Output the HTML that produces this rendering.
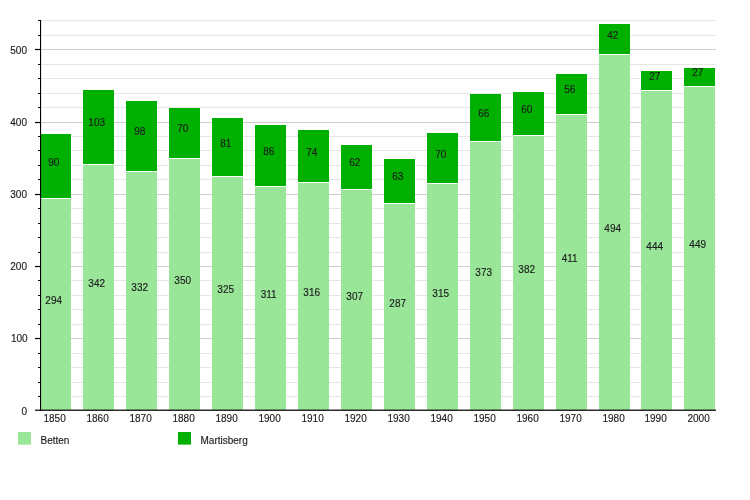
<!DOCTYPE html><html><head><meta charset="utf-8"><title>Chart</title><style>html,body{margin:0;padding:0;background:#fff}svg{display:block}text{font-family:"Liberation Sans",sans-serif;font-size:10px;fill:#1c1c1c;stroke:#1c1c1c;stroke-width:0.15px}</style></head><body>
<svg width="750" height="500" viewBox="0 0 750 500">
<rect width="750" height="500" fill="#fff"/>
<rect x="40" y="410" width="676" height="1" fill="#cecece"/>
<rect x="40" y="396" width="676" height="1" fill="#e6e6e6"/>
<rect x="40" y="382" width="676" height="1" fill="#e6e6e6"/>
<rect x="40" y="367" width="676" height="1" fill="#e6e6e6"/>
<rect x="40" y="353" width="676" height="1" fill="#e6e6e6"/>
<rect x="40" y="338" width="676" height="1" fill="#cecece"/>
<rect x="40" y="324" width="676" height="1" fill="#e6e6e6"/>
<rect x="40" y="309" width="676" height="1" fill="#e6e6e6"/>
<rect x="40" y="295" width="676" height="1" fill="#e6e6e6"/>
<rect x="40" y="280" width="676" height="1" fill="#e6e6e6"/>
<rect x="40" y="266" width="676" height="1" fill="#cecece"/>
<rect x="40" y="252" width="676" height="1" fill="#e6e6e6"/>
<rect x="40" y="237" width="676" height="1" fill="#e6e6e6"/>
<rect x="40" y="223" width="676" height="1" fill="#e6e6e6"/>
<rect x="40" y="208" width="676" height="1" fill="#e6e6e6"/>
<rect x="40" y="194" width="676" height="1" fill="#cecece"/>
<rect x="40" y="179" width="676" height="1" fill="#e6e6e6"/>
<rect x="40" y="165" width="676" height="1" fill="#e6e6e6"/>
<rect x="40" y="150" width="676" height="1" fill="#e6e6e6"/>
<rect x="40" y="136" width="676" height="1" fill="#e6e6e6"/>
<rect x="40" y="122" width="676" height="1" fill="#cecece"/>
<rect x="40" y="107" width="676" height="1" fill="#e6e6e6"/>
<rect x="40" y="93" width="676" height="1" fill="#e6e6e6"/>
<rect x="40" y="78" width="676" height="1" fill="#e6e6e6"/>
<rect x="40" y="64" width="676" height="1" fill="#e6e6e6"/>
<rect x="40" y="49" width="676" height="1" fill="#cecece"/>
<rect x="40" y="35" width="676" height="1" fill="#e6e6e6"/>
<rect x="40" y="20" width="676" height="1" fill="#e6e6e6"/>
<rect x="40" y="199" width="31" height="211" fill="#99e699"/>
<rect x="40" y="134" width="31" height="64" fill="#00b000"/>
<text x="53.70" y="303.80" text-anchor="middle">294</text>
<text x="53.70" y="165.80" text-anchor="middle">90</text>
<text x="54.60" y="421.8" text-anchor="middle">1850</text>
<rect x="83" y="165" width="31" height="245" fill="#99e699"/>
<rect x="83" y="90" width="31" height="74" fill="#00b000"/>
<text x="96.70" y="286.80" text-anchor="middle">342</text>
<text x="96.70" y="125.80" text-anchor="middle">103</text>
<text x="97.60" y="421.8" text-anchor="middle">1860</text>
<rect x="126" y="172" width="31" height="238" fill="#99e699"/>
<rect x="126" y="101" width="31" height="70" fill="#00b000"/>
<text x="139.70" y="290.80" text-anchor="middle">332</text>
<text x="139.70" y="134.80" text-anchor="middle">98</text>
<text x="140.60" y="421.8" text-anchor="middle">1870</text>
<rect x="169" y="159" width="31" height="251" fill="#99e699"/>
<rect x="169" y="108" width="31" height="50" fill="#00b000"/>
<text x="182.70" y="283.80" text-anchor="middle">350</text>
<text x="182.70" y="131.80" text-anchor="middle">70</text>
<text x="183.60" y="421.8" text-anchor="middle">1880</text>
<rect x="212" y="177" width="31" height="233" fill="#99e699"/>
<rect x="212" y="118" width="31" height="58" fill="#00b000"/>
<text x="225.70" y="292.80" text-anchor="middle">325</text>
<text x="225.70" y="146.80" text-anchor="middle">81</text>
<text x="226.60" y="421.8" text-anchor="middle">1890</text>
<rect x="255" y="187" width="31" height="223" fill="#99e699"/>
<rect x="255" y="125" width="31" height="61" fill="#00b000"/>
<text x="268.70" y="297.80" text-anchor="middle">311</text>
<text x="268.70" y="154.80" text-anchor="middle">86</text>
<text x="269.60" y="421.8" text-anchor="middle">1900</text>
<rect x="298" y="183" width="31" height="227" fill="#99e699"/>
<rect x="298" y="130" width="31" height="52" fill="#00b000"/>
<text x="311.70" y="295.80" text-anchor="middle">316</text>
<text x="311.70" y="155.80" text-anchor="middle">74</text>
<text x="312.60" y="421.8" text-anchor="middle">1910</text>
<rect x="341" y="190" width="31" height="220" fill="#99e699"/>
<rect x="341" y="145" width="31" height="44" fill="#00b000"/>
<text x="354.70" y="299.80" text-anchor="middle">307</text>
<text x="354.70" y="165.80" text-anchor="middle">62</text>
<text x="355.60" y="421.8" text-anchor="middle">1920</text>
<rect x="384" y="204" width="31" height="206" fill="#99e699"/>
<rect x="384" y="159" width="31" height="44" fill="#00b000"/>
<text x="397.70" y="306.80" text-anchor="middle">287</text>
<text x="397.70" y="179.80" text-anchor="middle">63</text>
<text x="398.60" y="421.8" text-anchor="middle">1930</text>
<rect x="427" y="184" width="31" height="226" fill="#99e699"/>
<rect x="427" y="133" width="31" height="50" fill="#00b000"/>
<text x="440.70" y="296.80" text-anchor="middle">315</text>
<text x="440.70" y="157.80" text-anchor="middle">70</text>
<text x="441.60" y="421.8" text-anchor="middle">1940</text>
<rect x="470" y="142" width="31" height="268" fill="#99e699"/>
<rect x="470" y="94" width="31" height="47" fill="#00b000"/>
<text x="483.70" y="275.80" text-anchor="middle">373</text>
<text x="483.70" y="116.80" text-anchor="middle">66</text>
<text x="484.60" y="421.8" text-anchor="middle">1950</text>
<rect x="513" y="136" width="31" height="274" fill="#99e699"/>
<rect x="513" y="92" width="31" height="43" fill="#00b000"/>
<text x="526.70" y="272.80" text-anchor="middle">382</text>
<text x="526.70" y="112.80" text-anchor="middle">60</text>
<text x="527.60" y="421.8" text-anchor="middle">1960</text>
<rect x="556" y="115" width="31" height="295" fill="#99e699"/>
<rect x="556" y="74" width="31" height="40" fill="#00b000"/>
<text x="569.70" y="261.80" text-anchor="middle">411</text>
<text x="569.70" y="92.80" text-anchor="middle">56</text>
<text x="570.60" y="421.8" text-anchor="middle">1970</text>
<rect x="599" y="55" width="31" height="355" fill="#99e699"/>
<rect x="599" y="24" width="31" height="30" fill="#00b000"/>
<text x="612.70" y="231.80" text-anchor="middle">494</text>
<text x="612.70" y="38.80" text-anchor="middle">42</text>
<text x="613.60" y="421.8" text-anchor="middle">1980</text>
<rect x="641" y="91" width="31" height="319" fill="#99e699"/>
<rect x="641" y="71" width="31" height="19" fill="#00b000"/>
<text x="654.70" y="249.80" text-anchor="middle">444</text>
<text x="654.70" y="79.80" text-anchor="middle">27</text>
<text x="655.60" y="421.8" text-anchor="middle">1990</text>
<rect x="684" y="87" width="31" height="323" fill="#99e699"/>
<rect x="684" y="68" width="31" height="18" fill="#00b000"/>
<text x="697.70" y="247.80" text-anchor="middle">449</text>
<text x="697.70" y="75.80" text-anchor="middle">27</text>
<text x="698.60" y="421.8" text-anchor="middle">2000</text>
<rect x="40" y="20" width="1.1" height="391" fill="#000"/>
<rect x="35" y="409.6" width="681" height="1.2" fill="#000"/>
<text x="27" y="415.00" text-anchor="end">0</text>
<rect x="38" y="396" width="2" height="1" fill="#000"/>
<rect x="38" y="382" width="2" height="1" fill="#000"/>
<rect x="38" y="367" width="2" height="1" fill="#000"/>
<rect x="38" y="353" width="2" height="1" fill="#000"/>
<rect x="35" y="337.9" width="5" height="1.2" fill="#000"/>
<text x="27.7" y="342.20" text-anchor="end">100</text>
<rect x="38" y="324" width="2" height="1" fill="#000"/>
<rect x="38" y="309" width="2" height="1" fill="#000"/>
<rect x="38" y="295" width="2" height="1" fill="#000"/>
<rect x="38" y="280" width="2" height="1" fill="#000"/>
<rect x="35" y="265.9" width="5" height="1.2" fill="#000"/>
<text x="27" y="270.10" text-anchor="end">200</text>
<rect x="38" y="252" width="2" height="1" fill="#000"/>
<rect x="38" y="237" width="2" height="1" fill="#000"/>
<rect x="38" y="223" width="2" height="1" fill="#000"/>
<rect x="38" y="208" width="2" height="1" fill="#000"/>
<rect x="35" y="193.9" width="5" height="1.2" fill="#000"/>
<text x="27" y="198.40" text-anchor="end">300</text>
<rect x="38" y="179" width="2" height="1" fill="#000"/>
<rect x="38" y="165" width="2" height="1" fill="#000"/>
<rect x="38" y="150" width="2" height="1" fill="#000"/>
<rect x="38" y="136" width="2" height="1" fill="#000"/>
<rect x="35" y="121.9" width="5" height="1.2" fill="#000"/>
<text x="27" y="126.10" text-anchor="end">400</text>
<rect x="38" y="107" width="2" height="1" fill="#000"/>
<rect x="38" y="93" width="2" height="1" fill="#000"/>
<rect x="38" y="78" width="2" height="1" fill="#000"/>
<rect x="38" y="64" width="2" height="1" fill="#000"/>
<rect x="35" y="48.9" width="5" height="1.2" fill="#000"/>
<text x="27" y="53.80" text-anchor="end">500</text>
<rect x="38" y="35" width="2" height="1" fill="#000"/>
<rect x="38" y="20" width="2" height="1" fill="#000"/>
<rect x="18" y="432" width="13" height="12.6" fill="#99e699"/>
<text x="40.5" y="443.7">Betten</text>
<rect x="178" y="432" width="13" height="12.6" fill="#00b000"/>
<text x="200.5" y="443.7">Martisberg</text>
</svg></body></html>
